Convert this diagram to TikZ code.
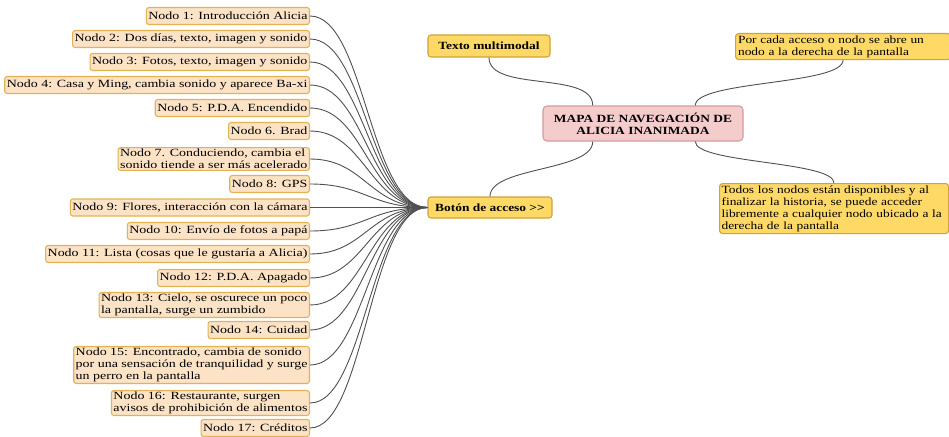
\documentclass[tikz,border=0pt]{standalone}
\usepackage{fontspec}
\setmainfont{Liberation Serif}[FakeStretch=1.22]
\newfontfamily\leaffont{Liberation Serif}[FakeStretch=1.27]
\usetikzlibrary{calc}
\definecolor{peach}{HTML}{FCE3C6}
\definecolor{peachborder}{HTML}{E2B354}
\definecolor{goldfill}{HTML}{FFD966}
\definecolor{goldborder}{HTML}{CFA23C}
\definecolor{pinkfill}{HTML}{F4CCCC}
\definecolor{pinkborder}{HTML}{D39B9B}
\definecolor{edgecol}{HTML}{505050}
\begin{document}
\begin{tikzpicture}[x=1pt,y=-1pt,
  leaf/.style={draw=peachborder, fill=peach, line width=1.1pt, rounded corners=2.5pt,
    anchor=east, align=left, font=\leaffont\fontsize{11}{12}\selectfont,
    inner xsep=2pt, inner ysep=1.5pt, minimum height=17pt},
  goldbox/.style={draw=goldborder, fill=goldfill, line width=1.1pt, rounded corners=3pt,
    font=\fontsize{11}{12}\selectfont},
  centerbox/.style={draw=pinkborder, fill=pinkfill, line width=1.1pt, rounded corners=4pt,
    font=\fontsize{11}{12}\selectfont\bfseries, align=center,
    minimum width=200pt, minimum height=35pt, inner sep=1pt},
  conn/.style={draw=edgecol, line width=0.9pt},
]
\useasboundingbox (0,0) rectangle (949,436);

% central node and main branches
\node[centerbox] (c) at (643,123.5) {MAPA DE NAVEGACIÓN DE\\ALICIA INANIMADA};
\node[goldbox, font=\fontsize{11}{12}\selectfont\bfseries, minimum width=122pt, minimum height=22pt, inner sep=1pt] (tm) at (489,46) {Texto multimodal};
\node[goldbox, font=\fontsize{11}{12}\selectfont\bfseries, minimum width=124pt, minimum height=21pt, inner sep=1pt] (bt) at (490,207.5) {Botón de acceso >\kern0pt>};
\node[goldbox, anchor=north west, align=left, text width=210pt, inner xsep=2.5pt, inner ysep=1pt, minimum height=26pt] (rt) at (735,33)
  {Por cada acceso o nodo se abre un\\nodo a la derecha de la pantalla};
\node[goldbox, anchor=north west, align=left, text width=225pt, inner xsep=2pt, inner ysep=1pt, minimum height=50pt] (rb) at (719,183)
  {Todos los nodos están disponibles y al\\finalizar la historia, se puede acceder\\libremente a cualquier nodo ubicado a la\\derecha de la pantalla};

% left leaves
\node[leaf] (n1) at (310,16) {Nodo 1: Introducción Alicia};
\node[leaf] (n2) at (310,39) {Nodo 2: Dos días, texto, imagen y sonido};
\node[leaf] (n3) at (310,62) {Nodo 3: Fotos, texto, imagen y sonido};
\node[leaf] (n4) at (310,85) {Nodo 4: Casa y Ming, cambia sonido y aparece Ba-xi};
\node[leaf] (n5) at (310,108) {Nodo 5: P.D.A. Encendido};
\node[leaf] (n6) at (310,131) {Nodo 6. Brad};
\node[leaf] (n7) at (310,159) {Nodo 7. Conduciendo, cambia el\\sonido tiende a ser más acelerado};
\node[leaf] (n8) at (310,184) {Nodo 8: GPS};
\node[leaf] (n9) at (310,207.5) {Nodo 9: Flores, interacción con la cámara};
\node[leaf] (n10) at (310,231) {Nodo 10: Envío de fotos a papá};
\node[leaf] (n11) at (310,254) {Nodo 11: Lista (cosas que le gustaría a Alicia)};
\node[leaf] (n12) at (310,278) {Nodo 12: P.D.A. Apagado};
\node[leaf] (n13) at (310,305) {Nodo 13: Cielo, se oscurece un poco\\la pantalla, surge un zumbido};
\node[leaf] (n14) at (310,330) {Nodo 14: Cuidad};
\node[leaf] (n15) at (310,365) {Nodo 15: Encontrado, cambia de sonido\\por una sensación de tranquilidad y surge\\un perro en la pantalla};
\node[leaf] (n16) at (310,403) {Nodo 16: Restaurante, surgen\\avisos de prohibición de alimentos};
\node[leaf] (n17) at (310,428) {Nodo 17: Créditos};

% connectors
\draw[conn] (tm.south) .. controls +(0,35) and +(0,-35) .. ($(c.north west)!0.25!(c.north east)$);
\draw[conn] (bt.north) .. controls +(0,-30) and +(0,30) .. ($(c.south west)!0.25!(c.south east)$);
\draw[conn] ($(c.north west)!0.76!(c.north east)$) .. controls +(0,-25) and +(0,25) .. (rt.south);
\draw[conn] ($(c.south west)!0.76!(c.south east)$) .. controls +(0,22) and +(0,-22) .. (rb.north);
\foreach \i in {1,...,17}{
  \draw[conn] (n\i.east) .. controls +(55,0) and +(-58,0) .. (bt.west);
}
\end{tikzpicture}
\end{document}
